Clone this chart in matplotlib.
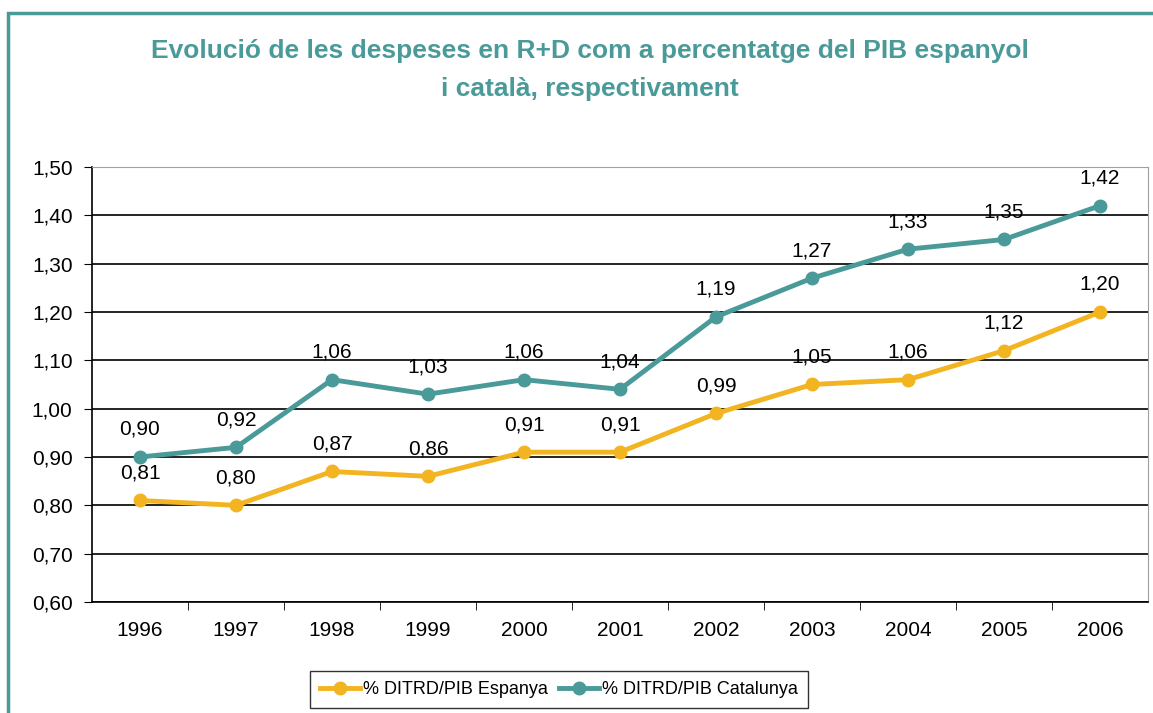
import numpy as np
import matplotlib.pyplot as plt
from matplotlib.patches import Rectangle

# dades
anys = ['1996', '1997', '1998', '1999', '2000', '2001', '2002', '2003', '2004', '2005', '2006']
espanya = [0.81, 0.80, 0.87, 0.86, 0.91, 0.91, 0.99, 1.05, 1.06, 1.12, 1.20]
catalunya = [0.90, 0.92, 1.06, 1.03, 1.06, 1.04, 1.19, 1.27, 1.33, 1.35, 1.42]

groc = '#F2B420'
verd = '#4A9A9A'

plt.rcParams['font.family'] = ['Liberation Sans', 'DejaVu Sans']

fig = plt.figure(figsize=(11.53, 7.13), dpi=100)
# marc exterior
fig.patches.append(Rectangle((8 / 1153, -0.1), 1.2, (713 - 13) / 713 + 0.1,
                             transform=fig.transFigure, fill=False,
                             edgecolor=verd, linewidth=2.5))

ax = fig.add_axes([92 / 1153, 1 - 602 / 713, 1056 / 1153, 435 / 713])
x = np.arange(len(anys))

ax.plot(x, espanya, color=groc, lw=3.5, marker='o', ms=9, label='% DITRD/PIB Espanya')
ax.plot(x, catalunya, color=verd, lw=3.5, marker='o', ms=9, label='% DITRD/PIB Catalunya')

for xi, v in zip(x, espanya):
    ax.annotate(f'{v:.2f}'.replace('.', ','), (xi, v), xytext=(0, 13),
                textcoords='offset points', ha='center', va='bottom', fontsize=15)
for xi, v in zip(x, catalunya):
    ax.annotate(f'{v:.2f}'.replace('.', ','), (xi, v), xytext=(0, 13),
                textcoords='offset points', ha='center', va='bottom', fontsize=15)

ax.set_xlim(-0.5, len(anys) - 0.5)
ax.set_ylim(0.60, 1.50)
yt = np.arange(0.60, 1.501, 0.10)
ax.set_yticks(yt)
ax.set_yticklabels([f'{t:.2f}'.replace('.', ',') for t in yt], fontsize=15)
ax.set_xticks(x)
ax.set_xticklabels(anys, fontsize=15)
ax.set_xticks(np.arange(0.5, len(anys) - 1, 1), minor=True)
ax.tick_params(axis='x', which='major', length=0, pad=14)
ax.tick_params(axis='x', which='minor', length=6, direction='out', color='black')
ax.tick_params(axis='y', length=6, direction='out', pad=8)

ax.grid(axis='y', color='black', lw=1.2)
ax.set_axisbelow(True)
for s in ['top', 'right']:
    ax.spines[s].set_color('#A0A0A0')
for s in ['left', 'bottom']:
    ax.spines[s].set_color('black')
    ax.spines[s].set_linewidth(1.2)

fig.text(0.512, 1 - 51 / 713, 'Evolució de les despeses en R+D com a percentatge del PIB espanyol',
         ha='center', va='center', fontsize=19, fontweight='bold', color=verd)
fig.text(0.512, 1 - 89 / 713, 'i català, respectivament',
         ha='center', va='center', fontsize=19, fontweight='bold', color=verd)

leg = fig.legend(loc='lower center', bbox_to_anchor=(0.485, -0.006), ncol=2, fontsize=13,
                 frameon=True, fancybox=False, edgecolor='black', handlelength=2.2,
                 handletextpad=0.2, columnspacing=0.6, borderpad=0.55)
leg.get_frame().set_linewidth(1.0)

fig.savefig('out.png', dpi=100)
